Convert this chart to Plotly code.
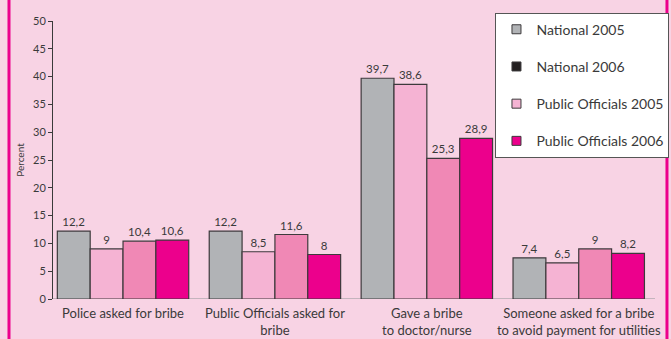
import plotly.graph_objects as go

# Categories and series values (percent)
categories = [
    "Police asked for bribe",
    "Public Officials asked for<br>bribe",
    "Gave a bribe<br>to doctor/nurse",
    "Someone asked for a bribe<br>to avoid payment for utilities",
]
national_2005 = [12.2, 12.2, 39.7, 7.4]
national_2006 = [9, 8.5, 38.6, 6.5]
public_2005 = [10.4, 11.6, 25.3, 9]
public_2006 = [10.6, 8, 28.9, 8.2]

series_values = [national_2005, national_2006, public_2005, public_2006]
bar_colors = ["#B1B3B6", "#F5B3D3", "#F088B5", "#EC008C"]

legend_names = ["National 2005", "National 2006", "Public Officials 2005", "Public Officials 2006"]
legend_colors = ["#B1B3B6", "#231F20", "#F5B3D3", "#EC008C"]

y_ticks = [0, 5, 10, 15, 20, 25, 30, 35, 40, 45, 50]

FONT = "Lato, 'Open Sans', sans-serif"
TEXT = "#3a3a3a"
BG = "#F8D3E4"

x_pos = list(range(len(categories)))


def fmt(v):
    return f"{v:g}".replace(".", ",")


fig = go.Figure()

for vals, col in zip(series_values, bar_colors):
    fig.add_trace(go.Bar(
        x=x_pos, y=vals,
        marker=dict(color=col, line=dict(color="#3d3a3c", width=1.2)),
        text=[fmt(v) for v in vals],
        textposition="outside",
        constraintext="none",
        textfont=dict(family=FONT, size=11.5, color=TEXT),
        cliponaxis=False,
        showlegend=False,
        hoverinfo="skip",
    ))

# legend entries (square swatches)
for i, (name, col) in enumerate(zip(legend_names, legend_colors)):
    fig.add_trace(go.Scatter(
        x=[None], y=[None], name=name, mode="markers",
        marker=dict(symbol="square", size=9, color=col, line=dict(color="#3d3a3c", width=1)),
        legendgroup=f"g{i}",
        showlegend=True,
    ))

fig.update_layout(
    width=671, height=339,
    margin=dict(l=53, r=16, t=21, b=40, autoexpand=False),
    paper_bgcolor=BG,
    plot_bgcolor=BG,
    barmode="group",
    bargap=0.135,
    bargroupgap=0,
    font=dict(family=FONT, size=11, color=TEXT),
    legend=dict(
        x=0.735, y=1.03, xanchor="left", yanchor="top",
        bgcolor="white",
        bordercolor="#555555", borderwidth=1,
        font=dict(family=FONT, size=14, color=TEXT),
        tracegroupgap=16,
        itemwidth=30,
    ),
    xaxis=dict(
        range=[-0.461, 3.502],
        tickvals=x_pos,
        ticktext=categories,
        showgrid=False,
        zeroline=False,
        showline=False,
        ticks="",
        ticklabelstandoff=5,
        automargin=False,
        tickfont=dict(family=FONT, size=13, color=TEXT),
        fixedrange=True,
    ),
    yaxis=dict(
        range=[0, 50],
        tickvals=y_ticks,
        showgrid=False,
        zeroline=False,
        showline=True,
        linecolor="#3a3a3a",
        linewidth=1,
        ticks="outside",
        ticklen=4,
        tickcolor="#3a3a3a",
        automargin=False,
        tickfont=dict(family=FONT, size=11, color=TEXT),
        title=dict(text="Percent", font=dict(family=FONT, size=10, color=TEXT), standoff=6),
        fixedrange=True,
    ),
    shapes=[
        # baseline
        dict(type="line", xref="paper", yref="y", x0=0, x1=1, y0=0, y1=0,
             line=dict(color="#C4B4BD", width=2), layer="below"),
        # frame
        dict(type="rect", xref="paper", yref="paper",
             x0=-0.0731, x1=1.0199, y0=-0.2, y1=1.12,
             line=dict(color="#EC008C", width=3), layer="below"),
    ],
)

fig.write_html("out.html")
